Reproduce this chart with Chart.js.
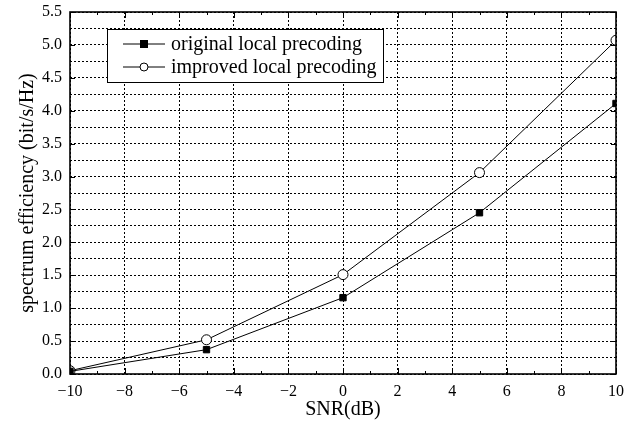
<!DOCTYPE html>
<html>
<head>
<meta charset="utf-8">
<script src="https://cdn.jsdelivr.net/npm/chart.js@4"></script>
<style>
  html, body { margin: 0; padding: 0; background: #fff; }
  #wrap { width: 637px; height: 424px; }
</style>
</head>
<body>
<div id="wrap"><canvas id="chart"></canvas></div>
<script>
// values
const snrDb = [-10, -5, 0, 5, 10];
const originalEff = [0.04, 0.37, 1.16, 2.45, 4.11];
const improvedEff = [0.05, 0.52, 1.51, 3.06, 5.07];
const seriesLabels = ['original local precoding', 'improved local precoding'];
const xTitle = 'SNR(dB)';
const yTitle = 'spectrum efficiency (bit/s/Hz)';

const serif = "'Liberation Serif', 'Times New Roman', serif";

function toPoints(xs, ys) {
    return xs.map((x, i) => ({ x: x, y: ys[i] }));
}

// frame, inward ticks and the legend box inside the plot
const framePlugin = {
    id: 'frame',
    afterDraw(chart) {
        const ctx = chart.ctx;
        const a = chart.chartArea;
        const xs = chart.scales.x;
        const ys = chart.scales.y;
        ctx.save();
        ctx.strokeStyle = '#000';
        ctx.lineWidth = 1;
        // x ticks (major on even values, minor on odd)
        for (let v = xs.min; v <= xs.max; v++) {
            const px = Math.round(xs.getPixelForValue(v)) + 0.5;
            const len = v % 2 === 0 ? 6 : 3;
            ctx.beginPath();
            ctx.moveTo(px, a.bottom); ctx.lineTo(px, a.bottom - len);
            ctx.moveTo(px, a.top); ctx.lineTo(px, a.top + len);
            ctx.stroke();
        }
        // y ticks on both sides
        for (let v = 0; v <= ys.max + 1e-9; v += 0.5) {
            const py = Math.round(ys.getPixelForValue(v)) + 0.5;
            ctx.beginPath();
            ctx.moveTo(a.left, py); ctx.lineTo(a.left + 5, py);
            ctx.moveTo(a.right, py); ctx.lineTo(a.right - 5, py);
            ctx.stroke();
        }
        ctx.lineWidth = 1.6;
        ctx.strokeRect(a.left, a.top, a.right - a.left, a.bottom - a.top);

        // legend
        const bx = a.left + 37, by = a.top + 17, bw = 276, bh = 53;
        ctx.fillStyle = '#fff';
        ctx.fillRect(bx, by, bw, bh);
        ctx.lineWidth = 1;
        ctx.strokeRect(bx + 0.5, by + 0.5, bw, bh);
        ctx.font = '20px ' + serif;
        ctx.textBaseline = 'middle';
        chart.data.datasets.forEach((ds, i) => {
            const ly = by + 15 + i * 23;
            ctx.strokeStyle = '#000';
            ctx.lineWidth = 1;
            ctx.beginPath();
            ctx.moveTo(bx + 16, ly); ctx.lineTo(bx + 58, ly);
            ctx.stroke();
            const mx = bx + 37;
            if (ds.pointStyle === 'rect') {
                ctx.fillStyle = '#000';
                ctx.fillRect(mx - 4, ly - 4, 8, 8);
            } else {
                ctx.beginPath();
                ctx.arc(mx, ly, 4, 0, Math.PI * 2);
                ctx.fillStyle = '#fff';
                ctx.fill();
                ctx.stroke();
            }
            ctx.fillStyle = '#000';
            ctx.fillText(ds.label, bx + 64, ly + 1);
        });
        ctx.restore();
    }
};

new Chart(document.getElementById('chart'), {
    type: 'line',
    data: {
        datasets: [
            {
                label: seriesLabels[0],
                data: toPoints(snrDb, originalEff),
                borderColor: '#000',
                borderWidth: 1,
                pointStyle: 'rect',
                pointRadius: 4.5,
                pointBackgroundColor: '#000',
                pointBorderColor: '#000',
                pointBorderWidth: 1,
                clip: 0
            },
            {
                label: seriesLabels[1],
                data: toPoints(snrDb, improvedEff),
                borderColor: '#000',
                borderWidth: 1,
                pointStyle: 'circle',
                pointRadius: 5,
                pointBackgroundColor: '#fff',
                pointBorderColor: '#000',
                pointBorderWidth: 1,
                clip: 0
            }
        ]
    },
    options: {
        responsive: true,
        maintainAspectRatio: false,
        animation: false,
        layout: { padding: { left: 0, right: 21, top: 12, bottom: 0 } },
        plugins: {
            legend: { display: false },
            tooltip: { enabled: false }
        },
        scales: {
            x: {
                type: 'linear',
                min: -10,
                max: 10,
                afterFit: s => { s.height = 50; s.paddingLeft = 0; s.paddingRight = 0; },
                ticks: {
                    stepSize: 2,
                    color: '#000',
                    padding: 8,
                    maxRotation: 0,
                    font: { family: serif, size: 16 },
                    callback: v => v < 0 ? '\u2212' + Math.abs(v) : String(v)
                },
                grid: { color: '#000', lineWidth: 1, drawTicks: false },
                border: { display: false, dash: [2, 2] },
                title: {
                    display: true,
                    text: xTitle,
                    color: '#000',
                    padding: { top: 0, bottom: 2 },
                    font: { family: serif, size: 20 }
                }
            },
            y: {
                type: 'linear',
                min: 0,
                max: 5.5,
                afterFit: s => { s.width = 70; s.paddingTop = 0; s.paddingBottom = 0; },
                ticks: {
                    stepSize: 0.25,
                    color: '#000',
                    padding: 8,
                    autoSkip: false,
                    font: { family: serif, size: 16 },
                    callback: v => (Math.round(v * 4) % 2 === 0) ? v.toFixed(1) : ''
                },
                grid: { color: '#000', lineWidth: 1, drawTicks: false },
                border: { display: false, dash: [2, 2] },
                title: {
                    display: true,
                    text: yTitle,
                    color: '#000',
                    padding: { top: 16, bottom: 4 },
                    font: { family: serif, size: 20 }
                }
            }
        }
    },
    plugins: [framePlugin]
});
</script>
</body>
</html>
